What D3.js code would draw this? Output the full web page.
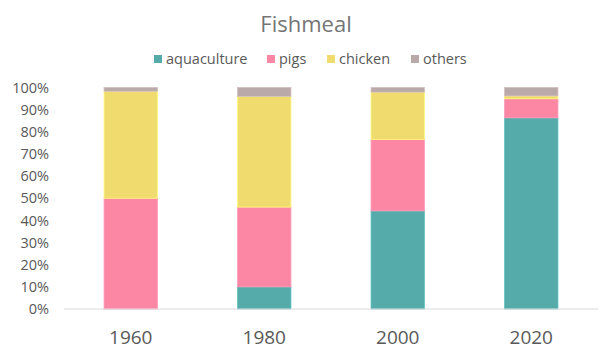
<!DOCTYPE html>
<html>
<head>
<meta charset="utf-8">
<script src="https://cdn.jsdelivr.net/npm/d3@7"></script>
<style>
  html, body { margin: 0; padding: 0; background: #fff; }
  svg { display: block; font-family: "Open Sans", sans-serif; }
</style>
</head>
<body>
<svg id="chart" width="613" height="356"></svg>
<script>
const years = ["1960", "1980", "2000", "2020"];
const seriesNames = ["aquaculture", "pigs", "chicken", "others"];
const aquaculture = [0, 10, 44.3, 86.3];
const pigs = [50, 36, 32.2, 8.6];
const chicken = [48.3, 50, 21.4, 1.3];
const others = [1.7, 4, 2.1, 3.8];
const colors = ["#54abaa", "#fc87a5", "#f0dc6e", "#baa9a9"];
const yTicks = [0, 10, 20, 30, 40, 50, 60, 70, 80, 90, 100];

const rows = years.map((y, i) => ({
  year: y, aquaculture: aquaculture[i], pigs: pigs[i], chicken: chicken[i], others: others[i]
}));

const svg = d3.select("#chart");
const margin = { left: 64, right: 15, top: 87.5, bottom: 47 };
const W = 613, H = 356;

const x = d3.scaleBand().domain(years).range([margin.left, W - margin.right]).paddingInner(0.6).paddingOuter(0.3);
const y = d3.scaleLinear().domain([0, 100]).range([H - margin.bottom, margin.top]);
const color = d3.scaleOrdinal().domain(seriesNames).range(colors);

const stack = d3.stack().keys(seriesNames);
const layers = stack(rows);

svg.append("g").selectAll("g").data(layers).join("g")
  .attr("fill", d => color(d.key))
  .attr("stroke", d => d3.color(color(d.key)).brighter(0.35))
  .attr("stroke-width", 0.8)
  .selectAll("rect").data(d => d).join("rect")
  .attr("x", d => x(d.data.year))
  .attr("width", x.bandwidth())
  .attr("y", d => y(d[1]))
  .attr("height", d => Math.max(0, y(d[0]) - y(d[1])));

// baseline
svg.append("line")
  .attr("x1", margin.left).attr("x2", W - margin.right)
  .attr("y1", y(0)).attr("y2", y(0))
  .attr("stroke", "#d9d9d9").attr("stroke-width", 1.2);

// y axis
const yAxis = d3.axisLeft(y).tickValues(yTicks).tickFormat(d => d + "%").tickSize(0).tickPadding(0);
const yg = svg.append("g").attr("transform", `translate(49,0)`).call(yAxis);
yg.select(".domain").remove();
yg.selectAll("text").attr("fill", "#595959").style("font-size", "14.5px").style("font-family", "'Open Sans', sans-serif");

// x axis
const xAxis = d3.axisBottom(x).tickSize(0).tickPadding(0);
const xg = svg.append("g").attr("transform", `translate(0,${y(0) + 21})`).call(xAxis);
xg.select(".domain").remove();
xg.selectAll("text").attr("fill", "#595959").style("font-size", "19px").style("font-family", "'Open Sans', sans-serif");

// title
svg.append("text").attr("x", 306).attr("y", 31.5).attr("text-anchor", "middle")
  .attr("fill", "#757575").style("font-size", "22px").text("Fishmeal");

// legend
const legendX = [154, 267, 327, 411];
const lg = svg.append("g");
seriesNames.forEach((s, i) => {
  lg.append("rect").attr("x", legendX[i]).attr("y", 55).attr("width", 8).attr("height", 8).attr("fill", color(s));
  lg.append("text").attr("x", legendX[i] + 12).attr("y", 63.5).attr("fill", "#595959")
    .style("font-size", "14.5px").text(s);
});
</script>
</body>
</html>
